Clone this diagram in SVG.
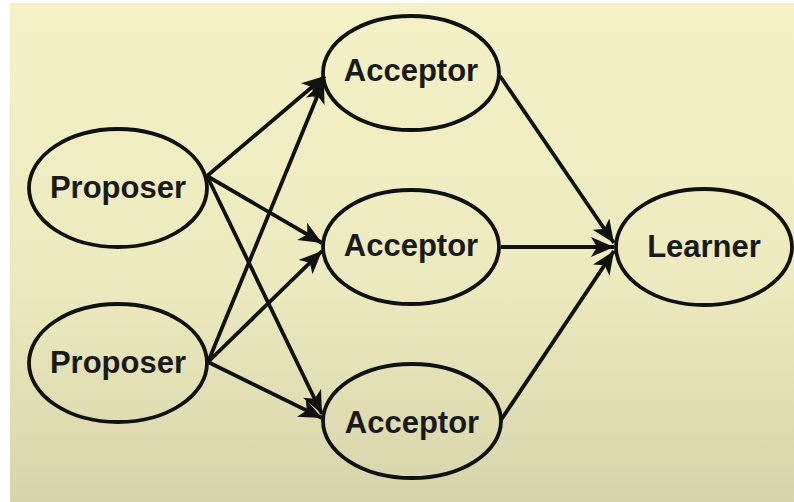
<svg xmlns="http://www.w3.org/2000/svg" width="794" height="502" viewBox="0 0 794 502">
  <defs>
    <linearGradient id="bg" x1="0" y1="0" x2="0" y2="1">
      <stop offset="0" stop-color="#f4f1c7"/>
      <stop offset="0.55" stop-color="#eeeabf"/>
      <stop offset="1" stop-color="#d7d4ab"/>
    </linearGradient>
    <marker id="arrow" markerUnits="userSpaceOnUse" markerWidth="26" markerHeight="22" refX="23" refY="10" orient="auto">
      <path d="M0,0 L23,10 L0,20 L6,10 z" fill="#111"/>
    </marker>
    <style>
      .node ellipse { fill: none; stroke: #111; stroke-width: 3.8; }
      .node text { font-family: "Liberation Sans", Arial, sans-serif; font-weight: bold; font-size: 31px; fill: #1a1a1a; text-anchor: middle; }
      #connectors line { stroke: #111; stroke-width: 3.8; marker-end: url(#arrow); }
    </style>
  </defs>

  <rect width="794" height="502" fill="#ffffff"/>
  <rect x="10" y="3" width="784" height="499" fill="url(#bg)"/>

  <g id="connectors">
    <line x1="207" y1="176" x2="325" y2="76"/>
    <line x1="207" y1="176" x2="322" y2="243"/>
    <line x1="207" y1="176" x2="322" y2="414"/>
    <line x1="208" y1="362" x2="324" y2="80"/>
    <line x1="208" y1="362" x2="322" y2="251"/>
    <line x1="208" y1="362" x2="322" y2="418"/>
    <line x1="500" y1="76" x2="614" y2="243"/>
    <line x1="501" y1="247" x2="614" y2="247"/>
    <line x1="501" y1="420" x2="614" y2="251"/>
  </g>

  <g id="proposer1" class="node">
    <ellipse cx="118" cy="188" rx="89" ry="59"/>
    <text x="118" y="198">Proposer</text>
  </g>
  <g id="proposer2" class="node">
    <ellipse cx="118" cy="363" rx="89" ry="59"/>
    <text x="118" y="373">Proposer</text>
  </g>
  <g id="acceptor1" class="node">
    <ellipse cx="411" cy="73" rx="88" ry="57"/>
    <text x="411" y="81">Acceptor</text>
  </g>
  <g id="acceptor2" class="node">
    <ellipse cx="411" cy="247" rx="88" ry="57"/>
    <text x="411" y="256">Acceptor</text>
  </g>
  <g id="acceptor3" class="node">
    <ellipse cx="412" cy="421" rx="89" ry="57"/>
    <text x="412" y="433">Acceptor</text>
  </g>
  <g id="learner" class="node">
    <ellipse cx="704" cy="247" rx="88" ry="58"/>
    <text x="704" y="257">Learner</text>
  </g>
</svg>
